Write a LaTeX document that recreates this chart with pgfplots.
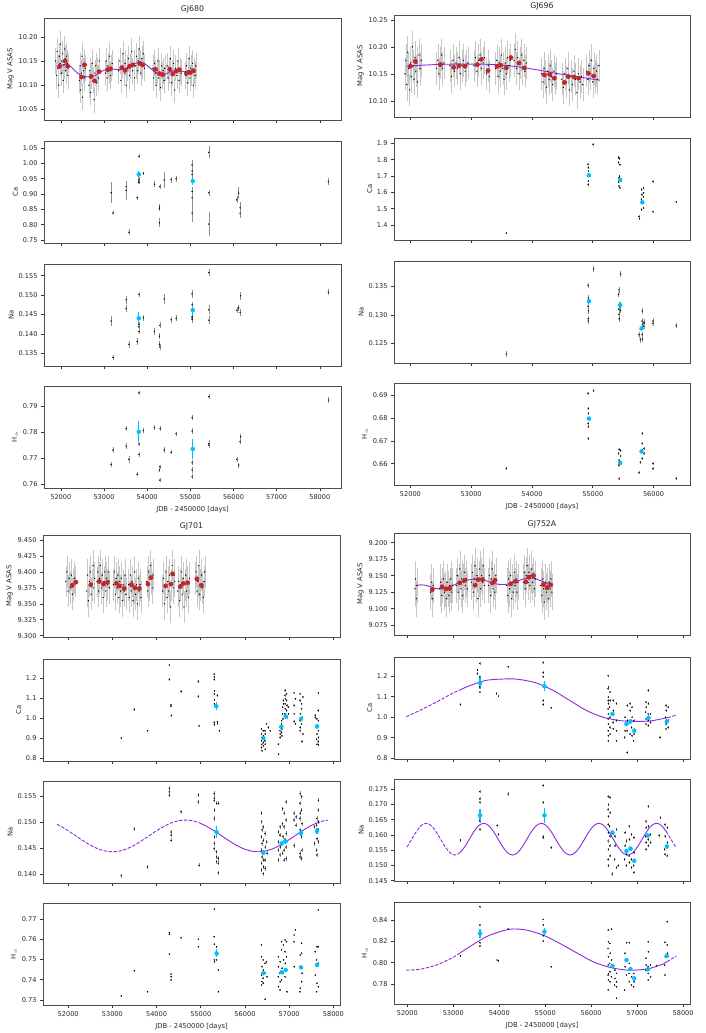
\documentclass[border=0pt]{standalone}
\usepackage{fontspec}
\setmainfont{DejaVu Sans}
\usepackage{pgfplots}
\pgfplotsset{compat=1.18}
\definecolor{dsb}{RGB}{0,191,255}
\definecolor{fbr}{RGB}{192,38,42}
\definecolor{bvi}{RGB}{138,43,226}

\pgfplotsset{
  base/.style={scale only axis, anchor=north west, height=102pt,
    scaled ticks=false, tick align=outside, tick pos=left,
    major tick length=3pt, tick style={black!80, line width=0.6pt},
    axis line style={black!70, line width=0.7pt},
    tick label style={font=\fontsize{6.6}{7.5}\selectfont, text=black!85},
    label style={font=\fontsize{6.8}{8}\selectfont, text=black!85},
    ylabel shift=-2pt,
    title style={font=\fontsize{7.8}{9}\selectfont, text=black!85, yshift=-5pt},
    /pgf/number format/assume math mode=true,
    xtick={52000,53000,54000,55000,56000,57000,58000},
    x tick label style={/pgf/number format/1000 sep={}}},
  L/.style={base, width=297pt},
  R/.style={base, width=296pt},
  nox/.style={xticklabels={}},
  bot/.style={xlabel={JDB - 2450000 [days]}},
  yp/.style={y tick label style={/pgf/number format/.cd, fixed, fixed zerofill, precision=#1}},
  asas/.style={only marks, mark=*, mark size=0.4pt, color=black,
    error bars/.cd, y dir=both, y fixed=#1, error mark=none,
    error bar style={gray!45, line width=0.45pt}},
  scat/.style={only marks, mark=*, mark size=0.45pt, color=black,
    error bars/.cd, y dir=both, y fixed=#1, error mark=none,
    error bar style={black!45, line width=0.4pt}},
  scatx/.style={only marks, mark=*, mark size=0.45pt, color=black,
    error bars/.cd, y dir=both, y explicit, error mark=none,
    error bar style={black!45, line width=0.4pt}},
  blu/.style={only marks, mark=*, mark size=2pt, color=dsb,
    error bars/.cd, y dir=both, y explicit, error mark=none,
    error bar style={dsb, line width=1.1pt}},
  redm/.style={only marks, mark=*, mark size=2.2pt, color=fbr},
  fit/.style={no markers, color=bvi, line width=0.9pt, smooth},
  fitd/.style={fit, dash pattern=on 3.4pt off 1.5pt},
}

\begin{document}
\begin{tikzpicture}
\useasboundingbox (0,0) rectangle (706pt,-1033pt);

% ================= GJ680 =================
\begin{axis}[L, nox, at={(44pt,-18pt)}, xmin=51610, xmax=58490,
  ymin=10.028, ymax=10.239, ytick={10.05,10.10,10.15,10.20}, yp=2,
  title={GJ680}, ylabel={Mag V ASAS}]
\addplot[asas=0.027] coordinates {
(51880,10.150) (51900,10.120) (51915,10.170) (51930,10.135) (51950,10.100) (51965,10.160) (51980,10.145)
(51995,10.185) (52010,10.125) (52025,10.150) (52040,10.165) (52055,10.110) (52070,10.140) (52085,10.175)
(52100,10.155) (52115,10.130) (52130,10.160) (52145,10.145) (52160,10.120) (52175,10.140)
(52430,10.110) (52445,10.140) (52460,10.090) (52475,10.125) (52490,10.160) (52505,10.075) (52520,10.130)
(52535,10.145) (52550,10.115) (52565,10.135)
(52650,10.100) (52670,10.130) (52690,10.085) (52710,10.120) (52730,10.145) (52750,10.110) (52770,10.070)
(52790,10.125) (52810,10.140) (52830,10.105) (52850,10.130) (52870,10.115) (52890,10.150)
(53030,10.125) (53050,10.150) (53070,10.115) (53090,10.140) (53110,10.130) (53130,10.160) (53150,10.120)
(53170,10.135) (53190,10.145)
(53340,10.130) (53365,10.150) (53390,10.110) (53415,10.140) (53440,10.165) (53465,10.125) (53490,10.145)
(53515,10.100) (53540,10.135) (53565,10.155) (53590,10.120) (53615,10.140) (53640,10.170) (53665,10.130)
(53690,10.145) (53710,10.115)
(53735,10.140) (53755,10.160) (53775,10.130) (53795,10.150) (53815,10.175) (53835,10.145) (53855,10.125)
(53875,10.155) (53895,10.140) (53915,10.165) (53935,10.135)
(54130,10.135) (54150,10.115) (54170,10.145) (54190,10.125) (54210,10.100) (54230,10.130) (54250,10.150)
(54270,10.115) (54290,10.125) (54310,10.095) (54330,10.140) (54350,10.120) (54370,10.130) (54390,10.110)
(54410,10.135)
(54460,10.140) (54485,10.115) (54510,10.130) (54535,10.155) (54560,10.105) (54585,10.125) (54610,10.145)
(54635,10.090) (54660,10.135) (54685,10.120) (54710,10.150) (54735,10.110) (54760,10.130) (54785,10.125)
(54890,10.120) (54910,10.140) (54930,10.105) (54950,10.130) (54970,10.155) (54990,10.115) (55010,10.135)
(55030,10.125) (55050,10.145) (55070,10.100) (55090,10.130) (55110,10.120) (55125,10.140)
};
\addplot[fit] coordinates {
(51920,10.139) (52000,10.141) (52080,10.143) (52150,10.143) (52250,10.137) (52350,10.128) (52450,10.121)
(52550,10.118) (52650,10.117) (52750,10.118) (52850,10.123) (52950,10.129) (53050,10.132) (53150,10.133)
(53250,10.133) (53350,10.132) (53450,10.133) (53550,10.137) (53650,10.142) (53750,10.146) (53850,10.147)
(53950,10.144) (54050,10.137) (54150,10.129) (54250,10.124) (54350,10.122) (54450,10.124) (54550,10.128)
(54650,10.130) (54750,10.130) (54850,10.128) (54950,10.127) (55050,10.127) (55110,10.127)
};
\addplot[redm] coordinates {
(51969,10.139) (52100,10.150) (52162,10.139) (52478,10.117) (52548,10.142) (52702,10.118) (52779,10.109)
(52887,10.128) (53088,10.132) (53150,10.134) (53412,10.136) (53489,10.131) (53590,10.139) (53667,10.142)
(53829,10.145) (53898,10.142) (54191,10.133) (54284,10.124) (54361,10.122) (54523,10.133) (54593,10.123)
(54670,10.129) (54747,10.132) (54909,10.125) (54994,10.126) (55071,10.130)
};
\end{axis}

\begin{axis}[L, nox, at={(44pt,-141pt)}, xmin=51610, xmax=58490,
  ymin=0.740, ymax=1.073, ytick={0.75,0.80,0.85,0.90,0.95,1.00,1.05}, yp=2, ylabel={Ca}]
\addplot[scatx] coordinates {
(53165,0.904) +- (0,0.035) (53204,0.838) +- (0,0.008) (53512,0.924) +- (0,0.02) (53512,0.912) +- (0,0.03)
(53574,0.775) +- (0,0.01) (53767,0.888) +- (0,0.007) (53806,1.023) +- (0,0.006) (53806,0.948) +- (0,0.006)
(53806,0.942) +- (0,0.006) (53806,0.937) +- (0,0.006) (53914,0.968) +- (0,0.005) (54168,0.932) +- (0,0.01)
(54284,0.858) +- (0,0.01) (54284,0.852) +- (0,0.008) (54284,0.806) +- (0,0.015) (54292,0.924) +- (0,0.008)
(54392,0.946) +- (0,0.025) (54554,0.947) +- (0,0.01) (54670,0.950) +- (0,0.01) (55040,0.995) +- (0,0.015)
(55040,0.975) +- (0,0.01) (55040,0.964) +- (0,0.01) (55040,0.908) +- (0,0.015) (55040,0.888) +- (0,0.02)
(55040,0.838) +- (0,0.03) (55426,1.036) +- (0,0.02) (55426,0.904) +- (0,0.01) (55426,0.802) +- (0,0.04)
(56074,0.881) +- (0,0.012) (56120,0.903) +- (0,0.02) (56151,0.855) +- (0,0.02) (56151,0.837) +- (0,0.015)
(58196,0.940) +- (0,0.012)
};
\addplot[blu] coordinates {(53806,0.964) +- (0,0.012) (55056,0.942) +- (0,0.012)};
\end{axis}

\begin{axis}[L, nox, at={(44pt,-264pt)}, xmin=51610, xmax=58490,
  ymin=0.1317, ymax=0.158, ytick={0.135,0.140,0.145,0.150,0.155}, yp=3, ylabel={Na}]
\addplot[scatx] coordinates {
(53165,0.1433) +- (0,0.0012) (53204,0.1339) +- (0,0.0006) (53512,0.1488) +- (0,0.001) (53512,0.1465) +- (0,0.001)
(53574,0.1373) +- (0,0.0009) (53767,0.1380) +- (0,0.0008) (53806,0.1502) +- (0,0.0006) (53806,0.1424) +- (0,0.0006)
(53806,0.1418) +- (0,0.0006) (53806,0.1406) +- (0,0.0006) (53914,0.1441) +- (0,0.0008) (54168,0.1406) +- (0,0.0008)
(54284,0.1394) +- (0,0.0008) (54284,0.1373) +- (0,0.0008) (54292,0.1366) +- (0,0.0007) (54292,0.1422) +- (0,0.0008)
(54392,0.1490) +- (0,0.0012) (54554,0.1436) +- (0,0.0008) (54670,0.1440) +- (0,0.0008) (55040,0.1503) +- (0,0.001)
(55040,0.1475) +- (0,0.0008) (55040,0.1444) +- (0,0.0008) (55040,0.1441) +- (0,0.0008) (55040,0.1437) +- (0,0.0008)
(55426,0.1558) +- (0,0.001) (55426,0.1462) +- (0,0.0012) (55426,0.1435) +- (0,0.001) (56074,0.1461) +- (0,0.0008)
(56120,0.1467) +- (0,0.0008) (56151,0.1455) +- (0,0.0008) (56166,0.1498) +- (0,0.001) (58196,0.1507) +- (0,0.0008)
};
\addplot[blu] coordinates {(53806,0.1440) +- (0,0.0017) (55056,0.1461) +- (0,0.0012)};
\end{axis}

\begin{axis}[L, bot, at={(44pt,-386pt)}, xmin=51610, xmax=58490,
  ymin=0.7585, ymax=0.7977, ytick={0.76,0.77,0.78,0.79}, yp=2, ylabel={H$_\alpha$}]
\addplot[scatx] coordinates {
(53165,0.7675) +- (0,0.001) (53204,0.7731) +- (0,0.001) (53512,0.7814) +- (0,0.001) (53512,0.7746) +- (0,0.0012)
(53574,0.7695) +- (0,0.0012) (53767,0.7638) +- (0,0.0008) (53806,0.7951) +- (0,0.0008) (53806,0.7754) +- (0,0.0008)
(53806,0.7714) +- (0,0.0008) (53914,0.7806) +- (0,0.0008) (54168,0.7817) +- (0,0.0009) (54284,0.7654) +- (0,0.0009)
(54292,0.7615) +- (0,0.0008) (54292,0.7667) +- (0,0.0008) (54300,0.7814) +- (0,0.0008) (54392,0.7731) +- (0,0.001)
(54554,0.7722) +- (0,0.0008) (54670,0.7794) +- (0,0.0008) (55040,0.7855) +- (0,0.001) (55040,0.7804) +- (0,0.001)
(55040,0.7682) +- (0,0.001) (55040,0.7654) +- (0,0.001) (55040,0.7628) +- (0,0.001) (55426,0.7936) +- (0,0.001)
(55426,0.7756) +- (0,0.0012) (55426,0.7750) +- (0,0.001) (56074,0.7695) +- (0,0.001) (56120,0.7673) +- (0,0.001)
(56151,0.7763) +- (0,0.001) (56166,0.7782) +- (0,0.001) (58196,0.7923) +- (0,0.001)
};
\addplot[blu] coordinates {(53806,0.7801) +- (0,0.004) (55056,0.7735) +- (0,0.004)};
\end{axis}

% ================= GJ696 =================
\begin{axis}[R, nox, at={(394pt,-15pt)}, xmin=51730, xmax=56600,
  ymin=10.070, ymax=10.259, ytick={10.10,10.15,10.20,10.25}, yp=2,
  title={GJ696}, ylabel={Mag V ASAS}]
\addplot[asas=0.03] coordinates {
(51910,10.150) (51925,10.175) (51940,10.130) (51955,10.190) (51970,10.160) (51985,10.120) (52000,10.170)
(52015,10.145) (52030,10.200) (52045,10.165) (52060,10.140) (52075,10.180) (52090,10.155) (52105,10.170)
(52120,10.135) (52140,10.185) (52160,10.160) (52178,10.175)
(52430,10.160) (52450,10.175) (52470,10.150) (52490,10.170) (52510,10.185) (52530,10.160) (52550,10.170)
(52650,10.165) (52675,10.145) (52700,10.175) (52725,10.155) (52750,10.170) (52775,10.160) (52800,10.180)
(52825,10.150) (52850,10.165) (52875,10.175) (52900,10.155) (52925,10.165) (52945,10.170)
(53045,10.165) (53070,10.180) (53095,10.155) (53120,10.175) (53145,10.185) (53170,10.160) (53195,10.170)
(53218,10.180) (53255,10.150) (53280,10.165) (53300,10.145)
(53400,10.160) (53420,10.175) (53440,10.145) (53460,10.170) (53480,10.155) (53500,10.185) (53520,10.160)
(53540,10.140) (53560,10.170) (53580,10.150) (53600,10.180) (53620,10.165) (53640,10.175)
(53705,10.175) (53725,10.195) (53745,10.160) (53765,10.180) (53785,10.150) (53805,10.170) (53825,10.185)
(53845,10.160) (53865,10.175) (53885,10.155) (53905,10.170)
(54160,10.150) (54180,10.135) (54200,10.160) (54220,10.145) (54240,10.125) (54260,10.155) (54280,10.140)
(54300,10.165) (54320,10.145) (54340,10.130) (54360,10.155) (54380,10.140) (54398,10.150)
(54490,10.140) (54515,10.125) (54540,10.150) (54565,10.135) (54590,10.160) (54615,10.120) (54640,10.145)
(54665,10.130) (54690,10.155) (54715,10.140) (54740,10.115) (54765,10.150) (54790,10.135) (54815,10.145)
(54835,10.130)
(54900,10.155) (54920,10.140) (54940,10.165) (54960,10.150) (54980,10.175) (55000,10.135) (55020,10.160)
(55040,10.145) (55060,10.155) (55080,10.140) (55100,10.165)
};
\addplot[fit] coordinates {
(51934,10.164) (52200,10.166) (52500,10.1675) (52800,10.168) (53100,10.168) (53400,10.167) (53700,10.164)
(54000,10.159) (54300,10.153) (54600,10.147) (54900,10.142) (55110,10.138)
};
\addplot[redm] coordinates {
(52000,10.164) (52082,10.173) (52493,10.167) (52712,10.162) (52800,10.165) (52899,10.164) (53101,10.167)
(53167,10.177) (53277,10.156) (53425,10.164) (53485,10.166) (53578,10.161) (53655,10.180) (53786,10.170)
(53874,10.161) (54203,10.148) (54290,10.149) (54367,10.142) (54532,10.134) (54597,10.145) (54696,10.144)
(54767,10.142) (54926,10.151) (55014,10.146)
};
\end{axis}

\begin{axis}[R, nox, at={(394pt,-138pt)}, xmin=51730, xmax=56600,
  ymin=1.309, ymax=1.933, ytick={1.4,1.5,1.6,1.7,1.8,1.9}, yp=1, ylabel={Ca}]
\addplot[scat=0.007] coordinates {
(53578,1.351) (54920,1.772) (54926,1.752) (54930,1.731) (54922,1.700) (54928,1.670) (54924,1.649)
(55003,1.894) (55425,1.814) (55425,1.783) (55428,1.690) (55425,1.663) (55430,1.639) (55441,1.807)
(55444,1.770) (55441,1.700) (55446,1.628) (55759,1.453) (55770,1.441) (55803,1.618) (55806,1.587)
(55800,1.556) (55803,1.495) (55836,1.628) (55836,1.598) (55833,1.573) (55838,1.536) (55836,1.505)
(55989,1.667) (55989,1.482) (56373,1.542)
};
\addplot[blu] coordinates {(54937,1.705) +- (0,0.012) (55452,1.676) +- (0,0.012) (55814,1.540) +- (0,0.012)};
\end{axis}

\begin{axis}[R, nox, at={(394pt,-261pt)}, xmin=51730, xmax=56600,
  ymin=0.1215, ymax=0.1395, ytick={0.125,0.130,0.135}, yp=3, ylabel={Na}]
\addplot[scat=0.0005] coordinates {
(53578,0.1231) (54920,0.1352) (54926,0.1330) (54930,0.1324) (54922,0.1315) (54928,0.1307) (54924,0.1293)
(54926,0.1289) (55014,0.1381) (55430,0.1344) (55426,0.1336) (55432,0.1318) (55428,0.1310) (55430,0.1301)
(55434,0.1293) (55458,0.1372) (55458,0.1308) (55759,0.1265) (55781,0.1256) (55814,0.1307) (55810,0.1289)
(55816,0.1283) (55812,0.1265) (55814,0.1257) (55841,0.1287) (55843,0.1285) (55839,0.1280) (55989,0.1289)
(55989,0.1285) (56373,0.1281)
};
\addplot[blu] coordinates {(54937,0.1324) +- (0,0.0006) (55452,0.1317) +- (0,0.0006) (55803,0.1276) +- (0,0.0005)};
\end{axis}

\begin{axis}[R, bot, at={(394pt,-383pt)}, xmin=51730, xmax=56600,
  ymin=0.6507, ymax=0.6954, ytick={0.66,0.67,0.68,0.69}, yp=2, ylabel={H$_\alpha$}]
\addplot[scat=0.0006] coordinates {
(53578,0.6580) (54920,0.6909) (54926,0.6843) (54930,0.6821) (54922,0.6777) (54928,0.6762) (54926,0.6710)
(55014,0.6920) (55430,0.6663) (55426,0.6645) (55432,0.6616) (55428,0.6594) (55430,0.6534) (55458,0.6657)
(55458,0.6634) (55759,0.6561) (55781,0.6607) (55814,0.6733) (55810,0.6689) (55816,0.6660) (55812,0.6623)
(55841,0.6667) (55843,0.6645) (55989,0.6601) (55989,0.6578) (56373,0.6536)
};
\addplot[blu] coordinates {(54937,0.6798) +- (0,0.0008) (55452,0.6604) +- (0,0.0008) (55803,0.6654) +- (0,0.0008)};
\end{axis}

% ================= GJ701 =================
\begin{axis}[L, nox, at={(43pt,-535pt)}, xmin=51430, xmax=58150,
  ymin=9.298, ymax=9.4578, ytick={9.300,9.325,9.350,9.375,9.400,9.425,9.450}, yp=3,
  title={GJ701}, ylabel={Mag V ASAS}]
\addplot[asas=0.025] coordinates {
(51945,9.385) (51970,9.400) (51995,9.370) (52020,9.390) (52045,9.375) (52070,9.395) (52095,9.365)
(52120,9.380) (52145,9.390) (52170,9.385)
(52420,9.370) (52440,9.395) (52460,9.355) (52480,9.385) (52500,9.400) (52520,9.365) (52540,9.380)
(52560,9.410) (52580,9.375) (52600,9.390)
(52650,9.385) (52670,9.400) (52690,9.370) (52710,9.390) (52730,9.410) (52750,9.375) (52770,9.395)
(52790,9.360) (52810,9.385) (52830,9.400) (52850,9.370) (52870,9.390) (52890,9.380) (52910,9.400)
(52930,9.375)
(53025,9.380) (53045,9.400) (53065,9.365) (53085,9.390) (53105,9.375) (53125,9.395) (53145,9.360)
(53165,9.385) (53185,9.370) (53205,9.390) (53225,9.355) (53245,9.380) (53265,9.370) (53285,9.395)
(53305,9.365)
(53365,9.380) (53385,9.360) (53405,9.395) (53425,9.370) (53445,9.385) (53465,9.355) (53485,9.375)
(53505,9.400) (53525,9.365) (53545,9.380) (53565,9.350) (53585,9.390) (53605,9.370) (53625,9.380)
(53645,9.360)
(53780,9.385) (53800,9.370) (53820,9.400) (53840,9.380) (53860,9.410) (53880,9.390) (53900,9.375)
(53920,9.395)
(54135,9.370) (54155,9.390) (54175,9.350) (54195,9.380) (54215,9.400) (54235,9.360) (54255,9.385)
(54275,9.370) (54295,9.395) (54315,9.345) (54335,9.380) (54355,9.410) (54375,9.375) (54395,9.395)
(54410,9.385)
(54480,9.370) (54500,9.385) (54520,9.355) (54540,9.380) (54560,9.400) (54580,9.365) (54600,9.390)
(54620,9.345) (54640,9.380) (54660,9.395) (54680,9.370) (54700,9.385) (54720,9.360) (54740,9.390)
(54875,9.390) (54895,9.400) (54915,9.370) (54935,9.385) (54955,9.410) (54975,9.365) (54995,9.380)
(55015,9.395) (55035,9.375) (55055,9.360) (55075,9.385) (55090,9.400)
};
\addplot[redm] coordinates {
(52091,9.379) (52174,9.384) (52513,9.380) (52702,9.385) (52800,9.381) (52891,9.384) (53094,9.382)
(53162,9.378) (53268,9.374) (53434,9.380) (53509,9.375) (53608,9.374) (53804,9.381) (53872,9.391)
(54204,9.378) (54325,9.381) (54362,9.397) (54536,9.377) (54604,9.382) (54702,9.383) (54913,9.389)
(55011,9.379)
};
\end{axis}

\begin{axis}[L, nox, at={(43pt,-659pt)}, xmin=51430, xmax=58150,
  ymin=0.7865, ymax=1.294, ytick={0.8,0.9,1.0,1.1,1.2}, yp=1, ylabel={Ca}]
\addplot[scat=0.006] coordinates {
(53200,0.900) (53494,1.043) (53796,0.937) (54287,1.264) (54287,1.193) (54325,1.066) (54325,1.059)
(54332,1.013) (54551,1.133) (54943,1.183) (54943,1.108) (54958,0.961)
(55300,1.218) (55306,1.205) (55302,1.192) (55310,1.135) (55304,1.121) (55312,1.091) (55308,1.071)
(55300,0.979) (55306,0.967) (55374,1.113) (55374,0.982) (55380,0.974) (55419,0.937)
(56370,0.946) (56377,0.921) (56384,0.904) (56372,0.887) (56380,0.870) (56376,0.854) (56382,0.837)
(56410,0.937) (56418,0.912) (56405,0.895) (56415,0.879) (56420,0.862) (56450,0.937) (56456,0.921)
(56448,0.887) (56453,0.870) (56458,0.845) (56491,0.971) (56528,0.954) (56566,0.937)
(56755,0.870) (56760,0.820) (56792,0.954) (56788,0.937) (56796,0.921) (56790,0.904) (56830,0.987)
(56826,0.971) (56834,0.946) (56828,0.929) (56832,0.912) (56853,1.054) (56850,1.021) (56856,0.996)
(56868,1.088) (56872,1.071)
(56906,1.138) (56902,1.113) (56910,1.096) (56904,1.071) (56908,1.046) (56900,1.021) (56943,1.121)
(56940,1.088) (56946,1.063) (56942,1.038) (56944,1.004) (56981,1.054) (56985,1.021)
(57109,1.125) (57105,1.063) (57112,1.021) (57108,0.984) (57140,1.096) (57144,0.971)
(57245,1.121) (57240,1.088) (57248,1.021) (57242,0.987) (57246,0.954) (57244,0.937) (57283,1.071)
(57280,1.046) (57286,1.004) (57282,0.971) (57285,0.884) (57306,1.105) (57306,0.921)
(57585,1.013) (57590,1.004) (57623,0.996) (57620,0.954) (57626,0.921) (57622,0.895) (57625,0.870)
(57660,1.125) (57656,1.038) (57662,0.987) (57658,0.937) (57661,0.904) (57657,0.884) (57660,0.867)
};
\addplot[blu] coordinates {(55351,1.059) +- (0,0.02) (56415,0.900) +- (0,0.01) (56823,0.957) +- (0,0.01)
(56921,1.009) +- (0,0.012) (57268,0.996) +- (0,0.01) (57630,0.959) +- (0,0.01)};
\end{axis}

\begin{axis}[L, nox, at={(43pt,-781pt)}, xmin=51430, xmax=58150,
  ymin=0.1383, ymax=0.1579, ytick={0.140,0.145,0.150,0.155}, yp=3, ylabel={Na}]
\addplot[scat=0.0004] coordinates {
(53200,0.1397) (53494,0.1487) (53796,0.1414) (54287,0.1565) (54287,0.1558) (54287,0.1552) (54325,0.1481)
(54325,0.1475) (54325,0.1465) (54551,0.1520) (54943,0.1552) (54943,0.1539) (54958,0.1417)
(55300,0.1555) (55306,0.1546) (55302,0.1542) (55310,0.1523) (55304,0.1507) (55312,0.1472) (55308,0.1459)
(55300,0.1449) (55358,0.1536) (55354,0.1443) (55360,0.1433) (55356,0.1424) (55396,0.1536) (55392,0.1430)
(55400,0.1421) (55396,0.1403)
(56370,0.1517) (56377,0.1501) (56384,0.1485) (56372,0.1472) (56380,0.1459) (56376,0.1446) (56382,0.1433)
(56374,0.1421) (56378,0.1408) (56410,0.1491) (56418,0.1465) (56405,0.1440) (56415,0.1427) (56420,0.1414)
(56412,0.1401) (56450,0.1478) (56456,0.1452) (56448,0.1427) (56453,0.1411) (56491,0.1462) (56495,0.1440)
(56755,0.1481) (56758,0.1462) (56752,0.1446) (56756,0.1427) (56792,0.1491) (56788,0.1475) (56796,0.1452)
(56790,0.1437) (56853,0.1526) (56850,0.1497) (56856,0.1472) (56852,0.1440) (56883,0.1517) (56880,0.1491)
(56886,0.1465) (56882,0.1446) (56884,0.1427) (56928,0.1539) (56924,0.1504) (56932,0.1478) (56926,0.1452)
(56930,0.1430)
(57109,0.1517) (57105,0.1504) (57112,0.1455) (57155,0.1510) (57152,0.1494)
(57245,0.1555) (57240,0.1536) (57248,0.1517) (57242,0.1507) (57246,0.1485) (57244,0.1440) (57241,0.1433)
(57283,0.1549) (57280,0.1523) (57286,0.1497) (57282,0.1472) (57285,0.1446) (57281,0.1430)
(57570,0.1491) (57574,0.1459) (57623,0.1507) (57620,0.1494) (57626,0.1468) (57622,0.1446) (57625,0.1437)
(57660,0.1542) (57656,0.1523) (57662,0.1501) (57658,0.1485) (57661,0.1462)
};
\addplot[fitd] coordinates {
(51750,0.14960) (51845,0.14914) (52010,0.14829) (52175,0.14735) (52340,0.14641) (52505,0.14556)
(52670,0.14488) (52835,0.14445) (53000,0.14430) (53165,0.14445) (53330,0.14488) (53495,0.14556)
(53660,0.14641) (53825,0.14735) (53990,0.14829) (54155,0.14914) (54320,0.14982) (54485,0.15025)
(54650,0.15040) (54815,0.15025) (54980,0.14982)
};
\addplot[fit] coordinates {
(54980,0.14982) (55145,0.14914) (55310,0.14829) (55475,0.14735) (55640,0.14641) (55805,0.14556)
(55970,0.14488) (56135,0.14445) (56300,0.14430) (56465,0.14445) (56630,0.14488) (56795,0.14556)
(56960,0.14641) (57125,0.14735) (57290,0.14829) (57455,0.14914) (57620,0.14982)
};
\addplot[fitd] coordinates {(57620,0.14982) (57785,0.15025) (57880,0.15038)};
\addplot[blu] coordinates {(55358,0.1481) +- (0,0.0012) (56415,0.1441) +- (0,0.0005) (56830,0.1459) +- (0,0.0005)
(56921,0.1463) +- (0,0.0006) (57268,0.1479) +- (0,0.0005) (57630,0.1483) +- (0,0.0005)};
\end{axis}

\begin{axis}[L, bot, at={(43pt,-903pt)}, xmin=51430, xmax=58150,
  ymin=0.7275, ymax=0.7779, ytick={0.73,0.74,0.75,0.76,0.77}, yp=2, ylabel={H$_\alpha$}]
\addplot[scat=0.0005] coordinates {
(53200,0.7320) (53494,0.7445) (53796,0.7341) (54287,0.7633) (54287,0.7624) (54287,0.7526) (54325,0.7428)
(54325,0.7415) (54325,0.7399) (54551,0.7607) (54943,0.7600) (54943,0.7563)
(55306,0.7749) (55300,0.7613) (55308,0.7575) (55302,0.7498) (55310,0.7489) (55358,0.7563) (55354,0.7498)
(55396,0.7448) (55400,0.7341)
(56370,0.7572) (56377,0.7514) (56384,0.7465) (56372,0.7423) (56380,0.7391) (56376,0.7374) (56410,0.7498)
(56418,0.7448) (56405,0.7407) (56415,0.7382) (56450,0.7481) (56456,0.7432) (56453,0.7303) (56491,0.7489)
(56495,0.7415)
(56755,0.7514) (56758,0.7465) (56752,0.7415) (56756,0.7366) (56792,0.7489) (56788,0.7432) (56796,0.7391)
(56790,0.7349) (56830,0.7588) (56826,0.7547) (56834,0.7457) (56828,0.7399) (56868,0.7572) (56872,0.7498)
(56866,0.7432) (56906,0.7596) (56902,0.7539) (56910,0.7481) (56904,0.7415) (56943,0.7588) (56940,0.7514)
(56946,0.7341)
(57109,0.7621) (57105,0.7588) (57112,0.7465) (57140,0.7646)
(57245,0.7522) (57240,0.7465) (57248,0.7358) (57242,0.7341) (57283,0.7580) (57280,0.7530) (57286,0.7432)
(57282,0.7391)
(57585,0.7539) (57590,0.7423) (57623,0.7563) (57620,0.7498) (57626,0.7382) (57622,0.7341) (57660,0.7744)
(57656,0.7563) (57662,0.7481) (57658,0.7366)
};
\addplot[blu] coordinates {(55358,0.7530) +- (0,0.002) (56415,0.7432) +- (0,0.0008) (56830,0.7437) +- (0,0.0008)
(56921,0.7448) +- (0,0.0008) (57268,0.7461) +- (0,0.0008) (57630,0.7473) +- (0,0.0008)};
\end{axis}

% ================= GJ752A =================
\begin{axis}[R, nox, at={(394pt,-533pt)}, xmin=51710, xmax=58150,
  ymin=9.060, ymax=9.2146, ytick={9.075,9.100,9.125,9.150,9.175,9.200}, yp=3,
  title={GJ752A}, ylabel={Mag V ASAS}]
\addplot[asas=0.027] coordinates {
(52165,9.130) (52180,9.145) (52195,9.115) (52205,9.135)
(52505,9.125) (52525,9.140) (52545,9.115) (52565,9.135)
(52705,9.130) (52725,9.140) (52745,9.120) (52765,9.135) (52785,9.145) (52805,9.125) (52825,9.130)
(52845,9.115) (52865,9.140) (52885,9.130) (52905,9.120) (52925,9.135) (52945,9.145) (52965,9.125)
(52985,9.135)
(53065,9.135) (53085,9.150) (53105,9.125) (53125,9.140) (53145,9.160) (53165,9.130) (53185,9.145)
(53205,9.120) (53225,9.140) (53245,9.155) (53265,9.135) (53285,9.145) (53305,9.130)
(53395,9.140) (53415,9.155) (53435,9.125) (53455,9.145) (53475,9.165) (53495,9.135) (53515,9.150)
(53535,9.115) (53555,9.145) (53575,9.160) (53595,9.130) (53615,9.150) (53635,9.140) (53655,9.165)
(53675,9.135)
(53765,9.135) (53785,9.150) (53805,9.120) (53825,9.145) (53845,9.160) (53865,9.130) (53885,9.140)
(53905,9.125) (53925,9.150)
(54165,9.135) (54185,9.120) (54205,9.145) (54225,9.130) (54245,9.150) (54265,9.115) (54285,9.140)
(54305,9.125) (54325,9.155) (54345,9.135) (54365,9.145) (54385,9.125) (54405,9.140)
(54525,9.140) (54545,9.155) (54565,9.130) (54585,9.150) (54605,9.165) (54625,9.140) (54645,9.155)
(54665,9.135) (54685,9.150) (54705,9.160) (54725,9.140) (54745,9.150) (54765,9.130) (54785,9.145)
(54905,9.135) (54925,9.120) (54945,9.145) (54965,9.130) (54985,9.110) (55005,9.140) (55025,9.125)
(55045,9.135) (55065,9.115) (55085,9.140) (55105,9.130) (55125,9.145) (55145,9.125)
};
\addplot[fit] coordinates {
(52180,9.1350) (52300,9.1360) (52420,9.1350) (52550,9.1320) (52680,9.1300) (52800,9.1305) (52920,9.1330)
(53050,9.1370) (53180,9.1405) (53300,9.1430) (53420,9.1445) (53550,9.1445) (53680,9.1430) (53800,9.1400)
(53930,9.1375) (54050,9.1365) (54180,9.1370) (54300,9.1390) (54430,9.1425) (54550,9.1455) (54680,9.1465)
(54800,9.1450) (54930,9.1415) (55050,9.1380) (55120,9.1365)
};
\addplot[redm] coordinates {
(52544,9.129) (52755,9.133) (52842,9.130) (52922,9.1305) (53139,9.139) (53248,9.143) (53473,9.1355)
(53538,9.144) (53633,9.144) (53850,9.139) (53909,9.143) (54250,9.1375) (54351,9.1415) (54576,9.1405)
(54642,9.1475) (54743,9.150) (54961,9.1365) (55041,9.1315) (55120,9.136)
};
\end{axis}

\begin{axis}[R, nox, at={(394pt,-657pt)}, xmin=51710, xmax=58150,
  ymin=0.7966, ymax=1.2935, ytick={0.8,0.9,1.0,1.1,1.2}, yp=1, ylabel={Ca}]
\addplot[scat=0.006] coordinates {
(53154,1.062) (53524,1.230) (53524,1.213) (53575,1.262) (53575,1.197) (53575,1.172) (53575,1.148)
(53575,1.123) (53938,1.115) (53981,1.103) (54192,1.246) (54954,1.266) (54954,1.218) (54954,1.197)
(54954,1.082) (54954,1.062) (55128,1.046)
(56369,1.202) (56375,1.148) (56365,1.139) (56372,1.098) (56368,1.082) (56374,1.066) (56366,1.041)
(56371,1.016) (56367,0.992) (56373,0.967) (56369,0.934) (56375,0.910) (56370,0.885) (56405,1.123)
(56409,1.082) (56402,1.049) (56406,1.000) (56404,0.951) (56408,0.918) (56477,1.082) (56481,1.033)
(56474,0.975) (56478,0.944) (56550,1.066) (56546,0.984) (56553,0.934) (56549,0.885)
(56731,1.000) (56735,0.934) (56728,0.902) (56782,1.057) (56786,0.984) (56779,0.934) (56782,0.828)
(56840,1.066) (56844,1.033) (56837,0.975) (56841,0.918) (56884,1.049) (56888,1.000) (56881,0.951)
(56885,0.910) (56926,0.984) (56930,0.918) (56923,0.885)
(57189,1.074) (57193,1.049) (57186,1.025) (57190,0.992) (57188,0.967) (57240,1.131) (57244,1.066)
(57237,1.016) (57241,0.984) (57239,0.959) (57290,1.016) (57294,0.975)
(57494,0.902)
(57624,1.057) (57628,1.033) (57621,1.000) (57625,0.967) (57623,0.943) (57675,1.049) (57679,0.984)
(57672,0.951)
};
\addplot[fitd] coordinates {(51978,1.003) (52268,1.033) (52631,1.074) (52994,1.118) (53154,1.134)};
\addplot[fit] coordinates {
(53154,1.134) (53357,1.154) (53720,1.180) (54192,1.187) (54446,1.184) (54808,1.167) (55171,1.131)
(55534,1.082) (55897,1.033) (56260,1.000) (56623,0.984) (56877,0.980) (57131,0.980) (57348,0.984)
(57639,0.997) (57660,0.998)
};
\addplot[fitd] coordinates {(57660,0.998) (57856,1.011)};
\addplot[blu] coordinates {(53582,1.167) +- (0,0.03) (54983,1.151) +- (0,0.025) (56463,1.016) +- (0,0.012)
(56768,0.967) +- (0,0.012) (56855,0.980) +- (0,0.012) (56936,0.934) +- (0,0.012) (57247,0.997) +- (0,0.012)
(57646,0.980) +- (0,0.012)};
\end{axis}

\begin{axis}[R, nox, at={(394pt,-779pt)}, xmin=51710, xmax=58150,
  ymin=0.1449, ymax=0.1783, ytick={0.145,0.150,0.155,0.160,0.165,0.170,0.175}, yp=3, ylabel={Na}]
\addplot[scat=0.0005] coordinates {
(53154,0.1583) (53575,0.1742) (53575,0.1718) (53575,0.1707) (53575,0.1645) (53575,0.1618) (53952,0.1631)
(53981,0.1602) (54192,0.1734) (54954,0.1762) (54954,0.1707) (54954,0.1594) (54954,0.1590) (55128,0.1558)
(56369,0.1726) (56375,0.1699) (56365,0.1683) (56372,0.1661) (56368,0.1634) (56374,0.1607) (56366,0.1580)
(56371,0.1553) (56367,0.1520) (56373,0.1499) (56405,0.1723) (56409,0.1672) (56402,0.1629) (56406,0.1596)
(56404,0.1564) (56408,0.1531) (56456,0.1472) (56456,0.1612) (56514,0.1596) (56518,0.1564) (56511,0.1520)
(56550,0.1618) (56550,0.1493) (56586,0.1499)
(56731,0.1607) (56735,0.1564) (56728,0.1520) (56768,0.1580) (56772,0.1537) (56765,0.1499) (56826,0.1629)
(56830,0.1585) (56823,0.1531) (56827,0.1510) (56877,0.1602) (56881,0.1553) (56874,0.1520) (56878,0.1493)
(56926,0.1591) (56930,0.1542) (56923,0.1499) (56927,0.1477)
(57189,0.1645) (57193,0.1623) (57186,0.1596) (57190,0.1575) (57188,0.1553) (57240,0.1694) (57244,0.1629)
(57237,0.1585) (57241,0.1564) (57290,0.1602) (57294,0.1575)
(57479,0.1598) (57508,0.1656)
(57602,0.1634) (57606,0.1596) (57599,0.1553) (57603,0.1537) (57653,0.1623) (57657,0.1575) (57650,0.1531)
};
\addplot[fitd] coordinates {
(51992,0.1560) (52096,0.1586) (52201,0.1612) (52305,0.1631) (52410,0.1638) (52514,0.1631) (52618,0.1612)
(52723,0.1586) (52827,0.1560) (52932,0.1541) (53036,0.1534) (53140,0.1541)
};
\addplot[fit] coordinates {
(53140,0.1541) (53245,0.1560) (53349,0.1586) (53454,0.1612) (53558,0.1631) (53662,0.1638) (53767,0.1631)
(53871,0.1612) (53976,0.1586) (54080,0.1560) (54184,0.1541) (54289,0.1534) (54393,0.1541) (54498,0.1560)
(54602,0.1586) (54706,0.1612) (54811,0.1631) (54915,0.1638) (55020,0.1631) (55124,0.1612) (55228,0.1586)
(55333,0.1560) (55437,0.1541) (55542,0.1534) (55646,0.1541) (55750,0.1560) (55855,0.1586) (55959,0.1612)
(56064,0.1631) (56168,0.1638) (56272,0.1631) (56377,0.1612) (56481,0.1586) (56586,0.1560) (56690,0.1541)
(56794,0.1534) (56899,0.1541) (57003,0.1560) (57108,0.1586) (57212,0.1612) (57316,0.1631) (57421,0.1638)
(57525,0.1631) (57630,0.1612)
};
\addplot[fitd] coordinates {(57630,0.1612) (57734,0.1586) (57838,0.1560)};
\addplot[blu] coordinates {(53582,0.1664) +- (0,0.002) (54983,0.1664) +- (0,0.0025) (56463,0.1607) +- (0,0.0008)
(56768,0.1547) +- (0,0.0008) (56855,0.1555) +- (0,0.0008) (56936,0.1515) +- (0,0.0008) (57232,0.1598) +- (0,0.0008)
(57646,0.1562) +- (0,0.0008)};
\end{axis}

\begin{axis}[R, bot, at={(394pt,-902pt)}, xmin=51710, xmax=58150,
  ymin=0.7613, ymax=0.8569, ytick={0.78,0.80,0.82,0.84}, yp=2, ylabel={H$_\alpha$}]
\addplot[scat=0.0008] coordinates {
(53154,0.8066) (53575,0.8525) (53575,0.8353) (53575,0.8275) (53575,0.8188) (53575,0.8156) (53952,0.8025)
(53981,0.8019) (54192,0.8316) (54954,0.8406) (54954,0.8353) (54954,0.8253) (54954,0.8203) (55128,0.7963)
(56369,0.8306) (56375,0.8197) (56365,0.8134) (56372,0.8056) (56368,0.7978) (56374,0.7900) (56366,0.7884)
(56371,0.7838) (56367,0.7744) (56405,0.8181) (56409,0.8088) (56402,0.7994) (56406,0.7916) (56404,0.7822)
(56441,0.8313) (56445,0.8025) (56438,0.7869) (56514,0.7931) (56518,0.7853) (56511,0.7791) (56550,0.7900)
(56554,0.7822) (56547,0.7775) (56551,0.7666)
(56731,0.8088) (56735,0.7963) (56728,0.7744) (56768,0.8188) (56772,0.8025) (56765,0.7884) (56826,0.8188)
(56830,0.7994) (56823,0.7900) (56827,0.7822) (56877,0.7947) (56881,0.7869) (56874,0.7791) (56926,0.7900)
(56930,0.7822) (56923,0.7775)
(57189,0.8041) (57193,0.7978) (57186,0.7931) (57240,0.8197) (57244,0.8103) (57237,0.7963) (57241,0.7900)
(57239,0.7838) (57290,0.7978) (57294,0.7869)
(57421,0.7972)
(57602,0.8191) (57606,0.8056) (57599,0.7978) (57603,0.7884) (57653,0.8166) (57657,0.8088) (57650,0.8384)
};
\addplot[fitd] coordinates {(51978,0.7931) (52268,0.7938) (52631,0.7978) (52994,0.8050) (53154,0.8094)};
\addplot[fit] coordinates {
(53154,0.8094) (53357,0.8150) (53720,0.8244) (54083,0.8300) (54300,0.8316) (54591,0.8306) (54954,0.8259)
(55316,0.8181) (55679,0.8094) (56042,0.8009) (56405,0.7956) (56768,0.7931) (56985,0.7931) (57276,0.7947)
(57566,0.7988) (57646,0.8009)
};
\addplot[fitd] coordinates {(57646,0.8009) (57856,0.8063)};
\addplot[blu] coordinates {(53582,0.8275) +- (0,0.004) (54983,0.8291) +- (0,0.003) (56463,0.7969) +- (0,0.002)
(56768,0.8025) +- (0,0.002) (56855,0.7941) +- (0,0.002) (56936,0.7853) +- (0,0.002) (57232,0.7938) +- (0,0.002)
(57646,0.8063) +- (0,0.002)};
\end{axis}
\end{tikzpicture}
\end{document}
